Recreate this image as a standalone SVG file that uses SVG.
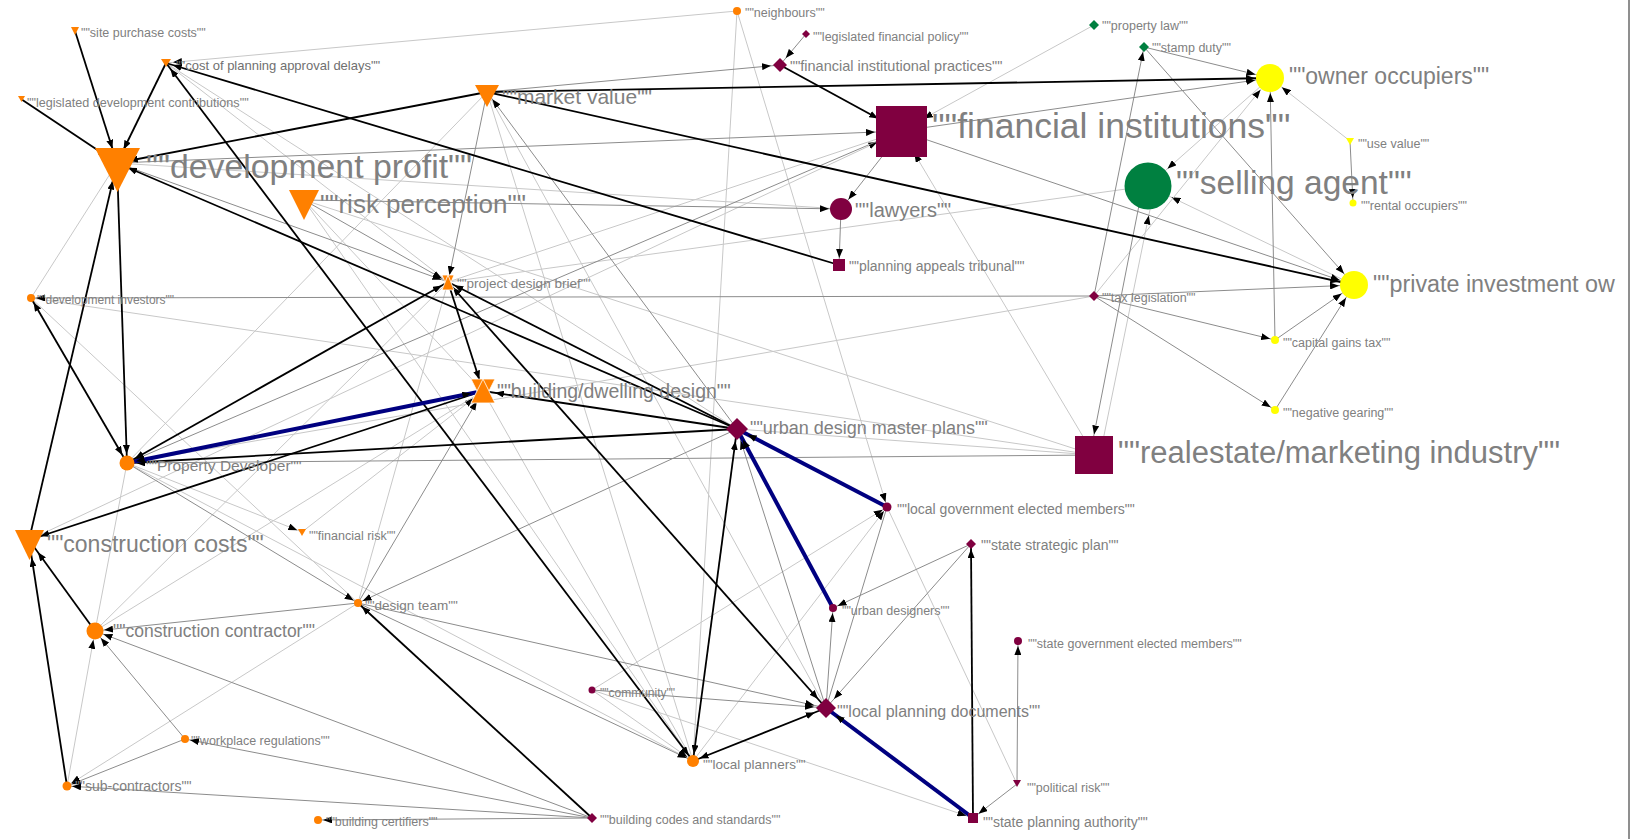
<svg xmlns="http://www.w3.org/2000/svg" width="1632" height="839" viewBox="0 0 1632 839">
<style>
.k{stroke:#000;stroke-width:1.8;fill:none}
.b{stroke:#000080;stroke-width:4;fill:none}
.g{stroke:#8c8c8c;stroke-width:1;fill:none}
.l{stroke:#c8c8c8;stroke-width:1;fill:none}
text{font-family:"Liberation Sans",Arial,sans-serif;fill:#808080}
.o{fill:#ff8000}
.m{fill:#800040}
.gr{fill:#008040}
.y{fill:#ffff00}
.hg{fill:#ff8000;stroke:#fff;stroke-width:0.8}
</style>
<defs>
<marker id="a5" markerUnits="userSpaceOnUse" markerWidth="9" markerHeight="7" refX="14" refY="3.5" orient="auto-start-reverse"><path d="M0,0 L9,3.5 L0,7 z" fill="#000"/></marker>
<marker id="a7" markerUnits="userSpaceOnUse" markerWidth="9" markerHeight="7" refX="16" refY="3.5" orient="auto-start-reverse"><path d="M0,0 L9,3.5 L0,7 z" fill="#000"/></marker>
<marker id="a9" markerUnits="userSpaceOnUse" markerWidth="9" markerHeight="7" refX="18" refY="3.5" orient="auto-start-reverse"><path d="M0,0 L9,3.5 L0,7 z" fill="#000"/></marker>
<marker id="a12" markerUnits="userSpaceOnUse" markerWidth="9" markerHeight="7" refX="21" refY="3.5" orient="auto-start-reverse"><path d="M0,0 L9,3.5 L0,7 z" fill="#000"/></marker>
<marker id="a15" markerUnits="userSpaceOnUse" markerWidth="9" markerHeight="7" refX="24" refY="3.5" orient="auto-start-reverse"><path d="M0,0 L9,3.5 L0,7 z" fill="#000"/></marker>
<marker id="a18" markerUnits="userSpaceOnUse" markerWidth="9" markerHeight="7" refX="27" refY="3.5" orient="auto-start-reverse"><path d="M0,0 L9,3.5 L0,7 z" fill="#000"/></marker>
<marker id="a21" markerUnits="userSpaceOnUse" markerWidth="9" markerHeight="7" refX="30" refY="3.5" orient="auto-start-reverse"><path d="M0,0 L9,3.5 L0,7 z" fill="#000"/></marker>
<marker id="a26" markerUnits="userSpaceOnUse" markerWidth="9" markerHeight="7" refX="35" refY="3.5" orient="auto-start-reverse"><path d="M0,0 L9,3.5 L0,7 z" fill="#000"/></marker>
</defs>
<rect x="0" y="0" width="1632" height="839" fill="#fff"/>
<line x1="1629" y1="0" x2="1629" y2="839" stroke="#6a6a6a" stroke-width="1.5"/>
<g id="connectors">
<line class="l" x1="1094" y1="25" x2="901" y2="131" marker-end="url(#a26)"/>
<line class="l" x1="1350" y1="141" x2="1270" y2="78" marker-end="url(#a15)"/>
<line class="l" x1="1270" y1="78" x2="1148" y2="186" marker-end="url(#a26)"/>
<line class="l" x1="1354" y1="285" x2="1148" y2="186" marker-end="url(#a26)"/>
<line class="l" x1="1100" y1="455" x2="1154" y2="190" marker-end="url(#a26)"/>
<line class="l" x1="1094" y1="455" x2="901" y2="131" marker-end="url(#a26)"/>
<line class="l" x1="1094" y1="296" x2="1270" y2="78" marker-end="url(#a15)"/>
<line class="l" x1="592" y1="690" x2="973" y2="818" marker-end="url(#a7)"/>
<line class="l" x1="737" y1="11" x2="887" y2="507" marker-end="url(#a5)"/>
<line class="l" x1="592" y1="690" x2="887" y2="507" marker-end="url(#a5)"/>
<line class="l" x1="693" y1="761" x2="887" y2="507" marker-end="url(#a5)"/>
<line class="l" x1="887" y1="507" x2="1017" y2="784"/>
<line class="l" x1="67" y1="786" x2="95" y2="631" marker-end="url(#a9)"/>
<line class="l" x1="358" y1="603" x2="67" y2="786" marker-end="url(#a5)"/>
<line class="l" x1="127" y1="463" x2="302" y2="532" marker-end="url(#a5)"/>
<line class="l" x1="127" y1="463" x2="95" y2="631"/>
<line class="l" x1="31" y1="298" x2="1094" y2="455"/>
<line class="l" x1="31" y1="298" x2="117" y2="163"/>
<line class="l" x1="31" y1="298" x2="358" y2="603"/>
<line class="l" x1="1094" y1="296" x2="127" y2="463"/>
<line class="l" x1="737" y1="11" x2="166" y2="63" marker-end="url(#a7)"/>
<line class="l" x1="448" y1="282" x2="1148" y2="186"/>
<line class="l" x1="448" y1="282" x2="901" y2="131"/>
<line class="l" x1="487" y1="92" x2="127" y2="463"/>
<line class="l" x1="487" y1="92" x2="826" y2="708"/>
<line class="l" x1="487" y1="92" x2="693" y2="761"/>
<line class="l" x1="304" y1="200" x2="483" y2="391"/>
<line class="l" x1="302" y1="532" x2="483" y2="391" marker-end="url(#a12)"/>
<line class="l" x1="448" y1="282" x2="358" y2="603"/>
<line class="l" x1="448" y1="282" x2="95" y2="631"/>
<line class="l" x1="304" y1="200" x2="1094" y2="455"/>
<line class="l" x1="737" y1="429" x2="1094" y2="455"/>
<line class="l" x1="127" y1="463" x2="693" y2="761"/>
<line class="l" x1="304" y1="200" x2="693" y2="761"/>
<line class="l" x1="483" y1="391" x2="693" y2="761"/>
<line class="l" x1="592" y1="690" x2="693" y2="761" marker-end="url(#a7)"/>
<line class="l" x1="737" y1="11" x2="693" y2="761"/>
<line class="l" x1="166" y1="63" x2="448" y2="282"/>
<line class="l" x1="166" y1="63" x2="737" y2="429"/>
<line class="l" x1="117" y1="163" x2="841" y2="209"/>
<line class="l" x1="29" y1="540" x2="901" y2="131" marker-end="url(#a26)"/>
<line class="l" x1="483" y1="391" x2="95" y2="631"/>
<line class="g" x1="117" y1="163" x2="901" y2="131" marker-end="url(#a26)"/>
<line class="g" x1="304" y1="200" x2="841" y2="209" marker-end="url(#a12)"/>
<line class="g" x1="487" y1="92" x2="780" y2="65" marker-end="url(#a9)"/>
<line class="g" x1="806" y1="34" x2="780" y2="65" marker-end="url(#a9)"/>
<line class="g" x1="487" y1="92" x2="448" y2="282" marker-end="url(#a7)"/>
<line class="g" x1="304" y1="200" x2="448" y2="282" marker-end="url(#a7)"/>
<line class="g" x1="117" y1="163" x2="448" y2="282" marker-end="url(#a7)"/>
<line class="g" x1="895" y1="140" x2="841" y2="209" marker-end="url(#a12)"/>
<line class="g" x1="901" y1="131" x2="127" y2="463" marker-end="url(#a9)"/>
<line class="g" x1="841" y1="209" x2="839" y2="265" marker-end="url(#a7)"/>
<line class="g" x1="901" y1="131" x2="1270" y2="78" marker-end="url(#a15)"/>
<line class="g" x1="901" y1="131" x2="1354" y2="285" marker-end="url(#a15)"/>
<line class="g" x1="1144" y1="47" x2="1270" y2="78" marker-end="url(#a15)"/>
<line class="g" x1="1144" y1="47" x2="1354" y2="285" marker-end="url(#a15)"/>
<line class="g" x1="1094" y1="296" x2="1144" y2="47" marker-end="url(#a5)"/>
<line class="g" x1="1094" y1="296" x2="1354" y2="285" marker-end="url(#a15)"/>
<line class="g" x1="1094" y1="296" x2="1275" y2="340" marker-end="url(#a5)"/>
<line class="g" x1="1094" y1="296" x2="1275" y2="410" marker-end="url(#a5)"/>
<line class="g" x1="1275" y1="340" x2="1354" y2="285" marker-end="url(#a15)"/>
<line class="g" x1="1275" y1="410" x2="1354" y2="285" marker-end="url(#a15)"/>
<line class="g" x1="1275" y1="340" x2="1270" y2="78" marker-end="url(#a15)"/>
<line class="g" x1="1350" y1="141" x2="1353" y2="203" marker-end="url(#a5)"/>
<line class="g" x1="1142" y1="190" x2="1090" y2="455" marker-end="url(#a21)"/>
<line class="g" x1="1094" y1="296" x2="31" y2="298" marker-end="url(#a5)"/>
<line class="g" x1="1094" y1="455" x2="127" y2="463" marker-end="url(#a9)"/>
<line class="g" x1="1017" y1="784" x2="1018" y2="641" marker-end="url(#a5)"/>
<line class="g" x1="1017" y1="784" x2="973" y2="818" marker-end="url(#a7)"/>
<line class="g" x1="971" y1="544" x2="833" y2="608" marker-end="url(#a5)"/>
<line class="g" x1="971" y1="544" x2="826" y2="708" marker-end="url(#a12)"/>
<line class="g" x1="826" y1="708" x2="833" y2="608" marker-end="url(#a5)"/>
<line class="g" x1="592" y1="818" x2="95" y2="631" marker-end="url(#a9)"/>
<line class="g" x1="592" y1="818" x2="185" y2="739" marker-end="url(#a5)"/>
<line class="g" x1="592" y1="818" x2="67" y2="786" marker-end="url(#a5)"/>
<line class="g" x1="592" y1="818" x2="318" y2="820" marker-end="url(#a5)"/>
<line class="g" x1="358" y1="603" x2="95" y2="631" marker-end="url(#a9)"/>
<line class="g" x1="185" y1="739" x2="95" y2="631" marker-end="url(#a9)"/>
<line class="g" x1="185" y1="739" x2="67" y2="786" marker-end="url(#a5)"/>
<line class="g" x1="127" y1="463" x2="358" y2="603" marker-end="url(#a5)"/>
<line class="g" x1="737" y1="429" x2="358" y2="603" marker-end="url(#a5)"/>
<line class="g" x1="358" y1="603" x2="826" y2="708" marker-end="url(#a12)"/>
<line class="g" x1="358" y1="603" x2="693" y2="761" marker-end="url(#a7)"/>
<line class="g" x1="358" y1="603" x2="483" y2="391" marker-end="url(#a12)"/>
<line class="g" x1="737" y1="429" x2="487" y2="92" marker-end="url(#a9)"/>
<line class="g" x1="592" y1="690" x2="826" y2="708" marker-end="url(#a12)"/>
<line class="g" x1="826" y1="708" x2="737" y2="429" marker-end="url(#a12)"/>
<line class="g" x1="887" y1="507" x2="826" y2="708"/>
<line class="k" x1="75" y1="31" x2="117" y2="163" marker-end="url(#a15)"/>
<line class="k" x1="21" y1="99" x2="117" y2="163" marker-end="url(#a12)"/>
<line class="k" x1="166" y1="63" x2="117" y2="163" marker-end="url(#a15)"/>
<line class="k" x1="487" y1="92" x2="117" y2="163" marker-end="url(#a12)"/>
<line class="k" x1="737" y1="429" x2="117" y2="163" marker-end="url(#a12)"/>
<line class="k" x1="839" y1="265" x2="166" y2="63" marker-end="url(#a7)"/>
<line class="k" x1="693" y1="761" x2="166" y2="63" marker-start="url(#a7)" marker-end="url(#a7)"/>
<line class="k" x1="117" y1="163" x2="127" y2="463" marker-end="url(#a9)"/>
<line class="k" x1="29" y1="540" x2="117" y2="163" marker-end="url(#a18)"/>
<line class="k" x1="31" y1="298" x2="127" y2="463" marker-start="url(#a5)" marker-end="url(#a9)"/>
<line class="k" x1="127" y1="463" x2="448" y2="282" marker-start="url(#a9)" marker-end="url(#a7)"/>
<line class="k" x1="483" y1="391" x2="29" y2="540" marker-end="url(#a12)"/>
<line class="k" x1="737" y1="429" x2="127" y2="463" marker-end="url(#a9)"/>
<line class="k" x1="737" y1="429" x2="483" y2="391" marker-end="url(#a12)"/>
<line class="k" x1="737" y1="429" x2="448" y2="282" marker-end="url(#a7)"/>
<line class="k" x1="448" y1="282" x2="483" y2="391" marker-end="url(#a12)"/>
<line class="k" x1="737" y1="429" x2="693" y2="761" marker-start="url(#a12)" marker-end="url(#a7)"/>
<line class="k" x1="693" y1="761" x2="826" y2="708" marker-start="url(#a7)" marker-end="url(#a12)"/>
<line class="k" x1="448" y1="282" x2="826" y2="708" marker-start="url(#a7)" marker-end="url(#a12)"/>
<line class="k" x1="95" y1="631" x2="29" y2="540" marker-end="url(#a15)"/>
<line class="k" x1="67" y1="786" x2="29" y2="540" marker-end="url(#a18)"/>
<line class="k" x1="592" y1="818" x2="358" y2="603" marker-end="url(#a5)"/>
<line class="k" x1="487" y1="92" x2="1270" y2="78" marker-end="url(#a15)"/>
<line class="k" x1="487" y1="92" x2="1354" y2="285" marker-end="url(#a15)"/>
<line class="k" x1="780" y1="65" x2="901" y2="131" marker-end="url(#a26)"/>
<line class="k" x1="973" y1="818" x2="971" y2="544" marker-end="url(#a5)"/>
<line class="b" x1="483" y1="391" x2="127" y2="463" marker-start="url(#a12)" marker-end="url(#a9)"/>
<line class="b" x1="887" y1="507" x2="737" y2="429" marker-end="url(#a12)"/>
<line class="b" x1="833" y1="608" x2="737" y2="429" marker-end="url(#a12)"/>
<line class="b" x1="973" y1="818" x2="826" y2="708" marker-end="url(#a12)"/>
</g>
<g id="n-spc"><polygon class="o" points="71,27 79,27 75,35"/><text x="81" y="37" font-size="12.5">""site purchase costs""</text></g>
<g id="n-cpad"><polygon class="o" points="161,59 171,59 166,67"/><text x="176" y="70" font-size="13" style="fill:#707070">""cost of planning approval delays""</text></g>
<g id="n-ldc"><polygon class="o" points="18,96 25,96 21.5,102"/><text x="27" y="107" font-size="12.6">""legislated development contributions""</text></g>
<g id="n-dp"><polygon class="o" points="95,148 140,148 117.5,192"/><text x="146" y="178" font-size="33.8">""development profit""</text></g>
<g id="n-mv"><polygon class="o" points="475,85 499,85 487,107"/><text x="502" y="104" font-size="21">""market value""</text></g>
<g id="n-rp"><polygon class="o" points="289,190 319,190 304,220"/><text x="320" y="213" font-size="26">""risk perception""</text></g>
<g id="n-pdb"><polygon class="hg" points="442,275 454,275 448,290"/><polygon class="hg" points="442,290 454,290 448,275"/><text x="457" y="288" font-size="13.5">""project design brief""</text></g>
<g id="n-bdd"><polygon class="hg" points="471,379 495,379 483,403"/><polygon class="hg" points="471,403 495,403 483,379"/><text x="497" y="398" font-size="19.5">""building/dwelling design""</text></g>
<g id="n-di"><circle class="o" cx="31" cy="298" r="4"/><text x="37" y="304" font-size="12">""development investors""</text></g>
<g id="n-pd"><circle class="o" cx="127" cy="463" r="7.5"/><text x="146" y="471" font-size="15.5">""Property Developer""</text></g>
<g id="n-cc"><polygon class="o" points="15,530 44,530 29.5,560"/><text x="47" y="552" font-size="23">""construction costs""</text></g>
<g id="n-fr"><polygon class="o" points="298,529 306,529 302,536"/><text x="309" y="540" font-size="12.5">""financial risk""</text></g>
<g id="n-dt"><circle class="o" cx="358" cy="603" r="4"/><text x="365" y="610" font-size="13.5">""design team""</text></g>
<g id="n-ccon"><circle class="o" cx="95" cy="631" r="8.5"/><text x="113" y="637" font-size="17.5">""construction contractor""</text></g>
<g id="n-wr"><circle class="o" cx="185" cy="739" r="4"/><text x="191" y="745" font-size="12.5">""workplace regulations""</text></g>
<g id="n-sc"><circle class="o" cx="67" cy="786" r="4.5"/><text x="75" y="791" font-size="14">""sub-contractors""</text></g>
<g id="n-bc"><circle class="o" cx="318" cy="820" r="4"/><text x="326" y="826" font-size="12.5">""building certifiers""</text></g>
<g id="n-bcs"><polygon class="m" points="592,813 597,818 592,823 587,818"/><text x="600" y="824" font-size="12.5">""building codes and standards""</text></g>
<g id="n-lp"><circle class="o" cx="693" cy="761" r="6"/><text x="703" y="769" font-size="13.5">""local planners""</text></g>
<g id="n-com"><circle class="m" cx="592" cy="690" r="3.5"/><text x="600" y="697" font-size="12">""community""</text></g>
<g id="n-lpd"><polygon class="m" points="826,698 836,708 826,718 816,708"/><text x="837" y="717" font-size="16">""local planning documents""</text></g>
<g id="n-udmp"><polygon class="m" points="737,418 748,429 737,440 726,429"/><text x="750" y="434" font-size="18">""urban design master plans""</text></g>
<g id="n-lgem"><circle class="m" cx="887" cy="507" r="4.5"/><text x="897" y="514" font-size="14">""local government elected members""</text></g>
<g id="n-ssp"><polygon class="m" points="971,539 976,544 971,549 966,544"/><text x="981" y="550" font-size="14">""state strategic plan""</text></g>
<g id="n-ud"><circle class="m" cx="833" cy="608" r="4"/><text x="842" y="615" font-size="12.5">""urban designers""</text></g>
<g id="n-sgem"><circle class="m" cx="1018" cy="641" r="4"/><text x="1028" y="648" font-size="12.5">""state government elected members""</text></g>
<g id="n-pr"><polygon class="m" points="1013,780 1021,780 1017,787"/><text x="1027" y="792" font-size="12.5">""political risk""</text></g>
<g id="n-spa"><rect class="m" x="968" y="813" width="10" height="10"/><text x="983" y="827" font-size="14">""state planning authority""</text></g>
<g id="n-rem"><rect class="m" x="1075" y="436" width="38" height="38"/><text x="1118" y="463" font-size="31">""realestate/marketing industry""</text></g>
<g id="n-tl"><polygon class="m" points="1094,291 1099,296 1094,301 1089,296"/><text x="1102" y="302" font-size="12.5">""tax legislation""</text></g>
<g id="n-cgt"><circle class="y" cx="1275" cy="340" r="4"/><text x="1283" y="347" font-size="12.5">""capital gains tax""</text></g>
<g id="n-ng"><circle class="y" cx="1275" cy="410" r="4"/><text x="1283" y="417" font-size="12.5">""negative gearing""</text></g>
<g id="n-pio"><circle class="y" cx="1354" cy="285" r="14"/><text x="1373" y="292" font-size="23.3">""private investment ow</text></g>
<g id="n-ro"><circle class="y" cx="1353" cy="203" r="3.5"/><text x="1361" y="210" font-size="12.5">""rental occupiers""</text></g>
<g id="n-uv"><polygon class="y" points="1346,138 1354,138 1350,145"/><text x="1358" y="148" font-size="12.5">""use value""</text></g>
<g id="n-oo"><circle class="y" cx="1270" cy="78" r="14"/><text x="1289" y="84" font-size="23">""owner occupiers""</text></g>
<g id="n-sa"><circle class="gr" cx="1148" cy="186" r="23.5"/><text x="1176" y="194" font-size="33.5">""selling agent""</text></g>
<g id="n-fi"><rect class="m" x="876" y="106" width="51" height="51"/><text x="932" y="138" font-size="35.5">""financial institutions""</text></g>
<g id="n-law"><circle class="m" cx="841" cy="209" r="11"/><text x="855" y="217" font-size="20">""lawyers""</text></g>
<g id="n-pat"><rect class="m" x="833" y="259" width="12" height="12"/><text x="849" y="271" font-size="14">""planning appeals tribunal""</text></g>
<g id="n-fip"><polygon class="m" points="780,58 787,65 780,72 773,65"/><text x="790" y="71" font-size="14.5">""financial institutional practices""</text></g>
<g id="n-lfp"><polygon class="m" points="806,30 810,34 806,38 802,34"/><text x="813" y="41" font-size="12.5">""legislated financial policy""</text></g>
<g id="n-nb"><circle class="o" cx="737" cy="11" r="4"/><text x="745" y="17" font-size="12.5">""neighbours""</text></g>
<g id="n-pl"><polygon class="gr" points="1094,20 1099,25 1094,30 1089,25"/><text x="1102" y="30" font-size="12.5">""property law""</text></g>
<g id="n-sd"><polygon class="gr" points="1144,42 1149,47 1144,52 1139,47"/><text x="1152" y="52" font-size="12.5">""stamp duty""</text></g>
</svg>
